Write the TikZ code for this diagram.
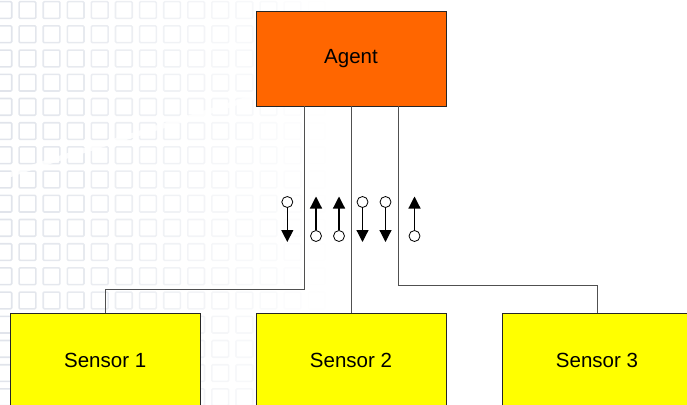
\documentclass[tikz,border=0pt]{standalone}
\usepackage{fontspec}
\setmainfont{Liberation Sans}
\usetikzlibrary{arrows.meta}
\definecolor{agentfill}{HTML}{FF6600}
\definecolor{sensorfill}{HTML}{FFFF00}
\definecolor{gridcol}{RGB}{205,211,222}
\definecolor{conncol}{HTML}{505050}
\tikzset{
  gridsq/.style={draw=gridcol, line width=1.6pt, rounded corners=1pt},
  box/.style={draw=black!85, line width=0.9pt, minimum width=190pt, minimum height=95pt,
    inner sep=0pt, font=\fontsize{20.5}{24}\selectfont},
  agentbox/.style={box, fill=agentfill},
  sensorbox/.style={box, fill=sensorfill},
  conn/.style={draw=conncol, line width=1pt},
  port/.style={circle, draw=black, fill=white, line width=0.8pt, minimum size=11pt, inner sep=0pt},
  sig/.style={draw=black, line width=1.2pt, -{Triangle[width=12pt,length=12pt]}},
}
\begin{document}
\begin{tikzpicture}[x=1pt,y=-1pt]
\useasboundingbox (0,0) rectangle (687,404);
% background grid
\begin{scope}
\clip (0,0) rectangle (687,404);
\foreach \i in {0,...,14} {
  \foreach \j in {0,...,16} {
    \pgfmathsetmacro\gx{-5+24.1*\i}
    \pgfmathsetmacro\gy{1.7+24.2*\j}
    \pgfmathsetmacro\op{max(0,min(1,0.6*(1-(\gx)/320)))}
    \draw[gridsq, draw opacity=\op] (\gx,\gy) rectangle ++(16.7,16.7);
  }
}
\draw[white, line width=5pt, opacity=0.85, line cap=round] (-5,180) .. controls (80,150) and (170,125) .. (260,95);
\end{scope}
% boxes
\node[agentbox] (agent) at (351,58.5) {Agent};
\node[sensorbox] (s1) at (105.2,360.8) {Sensor 1};
\node[sensorbox] (s2) at (351,360.8) {Sensor 2};
\node[sensorbox] (s3) at (597,360.8) {Sensor 3};
% connectors
\draw[conn] ([xshift=-47pt]agent.south) -- ++(0,183) -| (s1.north);
\draw[conn] (agent.south) -- (s2.north);
\draw[conn] ([xshift=47pt]agent.south) -- ++(0,179) -| (s3.north);
% signal arrows
\node[port] (p1) at (287.3,202) {};
\coordinate (e1) at (287.3,242);
\draw[sig] (p1) -- (e1);
\node[port] (p2) at (316,236) {};
\coordinate (e2) at (316,196.5);
\draw[sig] (p2) -- (e2);
\node[port] (p3) at (339,236) {};
\coordinate (e3) at (339,196.5);
\draw[sig] (p3) -- (e3);
\node[port] (p4) at (362.5,202) {};
\coordinate (e4) at (362.5,242);
\draw[sig] (p4) -- (e4);
\node[port] (p5) at (385.5,202) {};
\coordinate (e5) at (385.5,242);
\draw[sig] (p5) -- (e5);
\node[port] (p6) at (414.5,236) {};
\coordinate (e6) at (414.5,196.5);
\draw[sig] (p6) -- (e6);
\end{tikzpicture}
\end{document}
